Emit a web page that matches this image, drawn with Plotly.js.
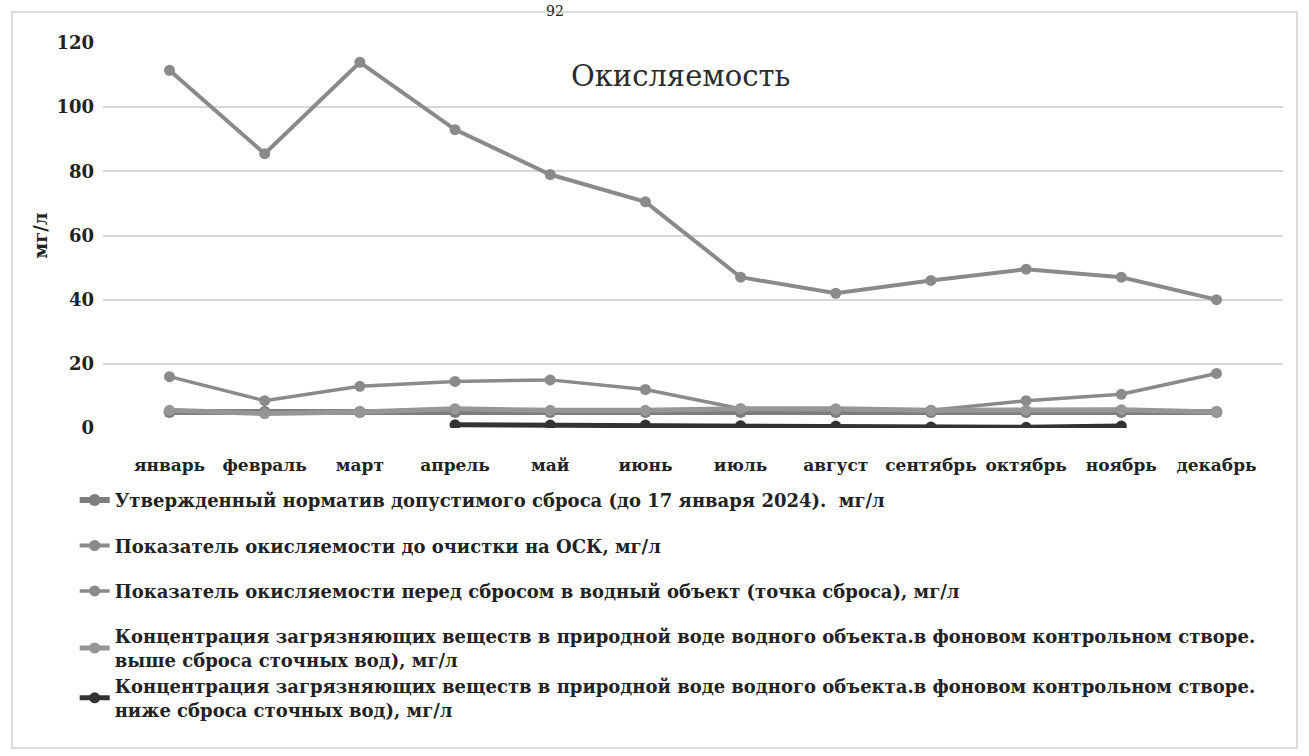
<!DOCTYPE html>
<html>
<head>
<meta charset="utf-8">
<script src="https://cdn.plot.ly/plotly-3.0.1.min.js"></script>
<style>html,body{margin:0;padding:0;background:#fff;}#chart{width:1309px;height:756px;}</style>
</head>
<body>
<div id="chart"></div>
<script>
const months = ["январь","февраль","март","апрель","май","июнь","июль","август","сентябрь","октябрь","ноябрь","декабрь"];
const seriesNames = [
  "Утвержденный норматив допустимого сброса (до 17 января 2024).  мг/л",
  "Показатель окисляемости до очистки на ОСК, мг/л",
  "Показатель окисляемости перед сбросом в водный объект (точка сброса), мг/л",
  "Концентрация загрязняющих веществ в природной воде водного объекта.в фоновом контрольном створе.<br>выше сброса сточных вод), мг/л",
  "Концентрация загрязняющих веществ в природной воде водного объекта.в фоновом контрольном створе.<br>ниже сброса сточных вод), мг/л"
];
const normative = [5, 5, 5, 5, 5, 5, 5, 5, 5, 5, 5, 5];
const beforeTreatment = [111.5, 85.5, 114, 93, 79, 70.5, 47, 42, 46, 49.5, 47, 40];
const beforeDischarge = [16, 8.5, 13, 14.5, 15, 12, 6, 5.5, 5.5, 8.5, 10.5, 17];
const backgroundAbove = [5.5, 4.5, 5, 6, 5.5, 5.5, 6, 6, 5.5, 5.5, 5.7, 5];
const backgroundBelow = [null, null, null, 1.0, 0.9, 0.9, 0.7, 0.6, 0.3, 0.2, 0.6, null];
const yTicks = [0, 20, 40, 60, 80, 100, 120];

const serif = "DejaVu Serif, Liberation Serif, serif";
function tr(y, name, color, width, msize, group) {
  return {x: months, y: y, name: name, type: "scatter", mode: "lines+markers",
    line: {color: color, width: width}, marker: {color: color, size: msize},
    legendgroup: group, connectgaps: false};
}
const data = [
  tr(normative, seriesNames[0], "#7d7d7d", 6, 12, "a"),
  tr(beforeTreatment, seriesNames[1], "#8a8a8a", 4, 11, "b"),
  tr(beforeDischarge, seriesNames[2], "#8a8a8a", 3.5, 11, "c"),
  tr(backgroundAbove, seriesNames[3], "#969696", 5, 11, "d"),
  tr(backgroundBelow, seriesNames[4], "#333333", 5, 11, "d")
];
const L = 103, T = 43, PW = 1180, PH = 385;
const layout = {
  width: 1309, height: 756,
  paper_bgcolor: "#fff", plot_bgcolor: "#fff",
  margin: {l: L, r: 1309 - L - PW, t: T, b: 756 - T - PH},
  font: {family: serif, color: "#222"},
  title: {text: "Окисляемость", font: {family: serif, size: 29, color: "#2a2a2a"},
    x: 0.52, xref: "container", xanchor: "center", y: 0.9, yref: "container", yanchor: "middle"},
  xaxis: {type: "category", showgrid: false, zeroline: false, showline: false, ticks: "", tickangle: 0,
    tickfont: {family: serif, size: 17, color: "#222", weight: "bold"}, ticklabelstandoff: 25},
  yaxis: {range: [0, 120], tickvals: yTicks, showgrid: true, gridcolor: "#d6d6d6", gridwidth: 1.5,
    zeroline: false, showline: false, ticks: "",
    tickfont: {family: serif, size: 18, color: "#222", weight: "bold"}, ticklabelstandoff: 8,
    title: {text: "мг/л", font: {family: serif, size: 18, color: "#222", weight: "bold"}, standoff: 4}},
  legend: {orientation: "v", x: -0.024, xanchor: "left", y: -0.14, yanchor: "top",
    font: {family: serif, size: 18, color: "#222", weight: "bold"}, tracegroupgap: 19, bgcolor: "rgba(0,0,0,0)"},
  showlegend: true,
  shapes: [{type: "rect", xref: "paper", yref: "paper", x0: (12 - L) / PW, x1: (1297 - L) / PW,
    y0: (T + PH - 748) / PH, y1: (T + PH - 12) / PH, line: {color: "#d0d0d0", width: 1.5}, fillcolor: "rgba(0,0,0,0)", layer: "below"}],
  annotations: [{text: "92", xref: "paper", yref: "paper", x: (555 - L) / PW, y: (T + PH - 1) / PH,
    yanchor: "top", showarrow: false, font: {family: serif, size: 14, color: "#222"}}]
};
Plotly.newPlot("chart", data, layout, {displayModeBar: false});
</script>
</body>
</html>
